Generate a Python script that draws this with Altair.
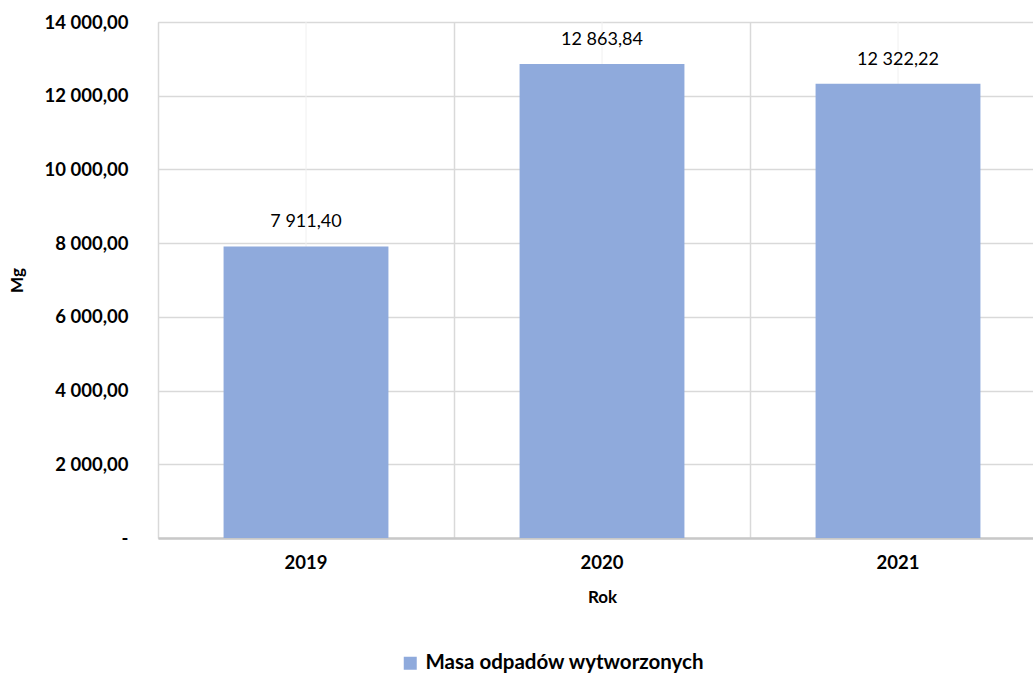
import altair as alt
import pandas as pd

years = ["2019", "2020", "2021"]
values = [7911.40, 12863.84, 12322.22]
series_name = "Masa odpadów wytworzonych"
y_ticks = [0, 2000, 4000, 6000, 8000, 10000, 12000, 14000]

df = pd.DataFrame({"Rok": years, "Mg": values, "series": [series_name] * len(years)})

FONT = "Lato"
BAR = "#8FAADC"

fmt = "replace(replace(format(datum.value, ',.2f'), ',', ' '), '.', ',')"

x_scale = alt.Scale(range=[0, 888], paddingInner=0, paddingOuter=0)
y_scale = alt.Scale(domain=[0, 14000], nice=False)

base = alt.Chart(df)

center_grid = base.mark_rule(color="#f0f0f0", strokeWidth=1).encode(
    x=alt.X("Rok:N", scale=x_scale, bandPosition=0.5, axis=None)
)

bars = base.mark_bar(width={"band": 0.557}, color=BAR).encode(
    x=alt.X(
        "Rok:N",
        scale=x_scale,
        sort=years,
        axis=alt.Axis(
            title="Rok",
            labelAngle=0,
            grid=True,
            bandPosition=0,
            gridColor="#d9d9d9",
            gridWidth=1.5,
            ticks=False,
            domain=True,
            domainColor="#c8c8c8",
            domainWidth=2.5,
            labelPadding=15,
            labelFont=FONT,
            labelFontSize=18.5,
            labelFontWeight="bold",
            labelColor="#000000",
            titleFont=FONT,
            titleFontSize=17,
            titleFontWeight="bold",
            titleColor="#000000",
            titlePadding=18,
        ),
    ),
    y=alt.Y(
        "Mg:Q",
        scale=y_scale,
        axis=alt.Axis(
            title="Mg",
            values=y_ticks,
            labelExpr="datum.value == 0 ? '-' : " + fmt,
            grid=True,
            gridColor="#d9d9d9",
            gridWidth=1.5,
            ticks=False,
            domain=False,
            labelPadding=30,
            labelFont=FONT,
            labelFontSize=18.5,
            labelFontWeight="bold",
            labelColor="#000000",
            titleFont=FONT,
            titleFontSize=17,
            titleFontWeight="bold",
            titleColor="#000000",
            titleX=-141,
            titleY=258,
            titleAngle=270,
            titleAlign="center",
            titleBaseline="middle",
        ),
    ),
    color=alt.Color(
        "series:N",
        scale=alt.Scale(range=[BAR]),
        legend=alt.Legend(
            title=None,
            orient="none",
            legendX=242,
            legendY=631,
            symbolType="square",
            symbolSize=169,
            symbolStrokeWidth=0,
            labelFont=FONT,
            labelFontSize=20.5,
            labelFontWeight="bold",
            labelColor="#000000",
            labelLimit=500,
            labelOffset=5,
        ),
    ),
)

labels = base.mark_text(
    font=FONT, fontSize=18, color="#000000", baseline="middle", dy=-24
).transform_calculate(
    lbl="replace(replace(format(datum.Mg, ',.2f'), ',', ' '), '.', ',')"
).encode(
    x=alt.X("Rok:N", scale=x_scale, bandPosition=0.5, axis=None),
    y=alt.Y("Mg:Q", scale=y_scale),
    text="lbl:N",
)

chart = (
    alt.layer(center_grid, bars, labels)
    .resolve_axis(x="independent")
    .properties(
        width=875,
        height=516,
        autosize=alt.AutoSizeParams(type="none"),
        padding={"left": 158, "top": 22, "right": 0, "bottom": 137},
    )
    .configure_view(stroke=None)
    .configure(background="white")
)

chart.save("out.html", embed_options={"renderer": "svg", "actions": False})
